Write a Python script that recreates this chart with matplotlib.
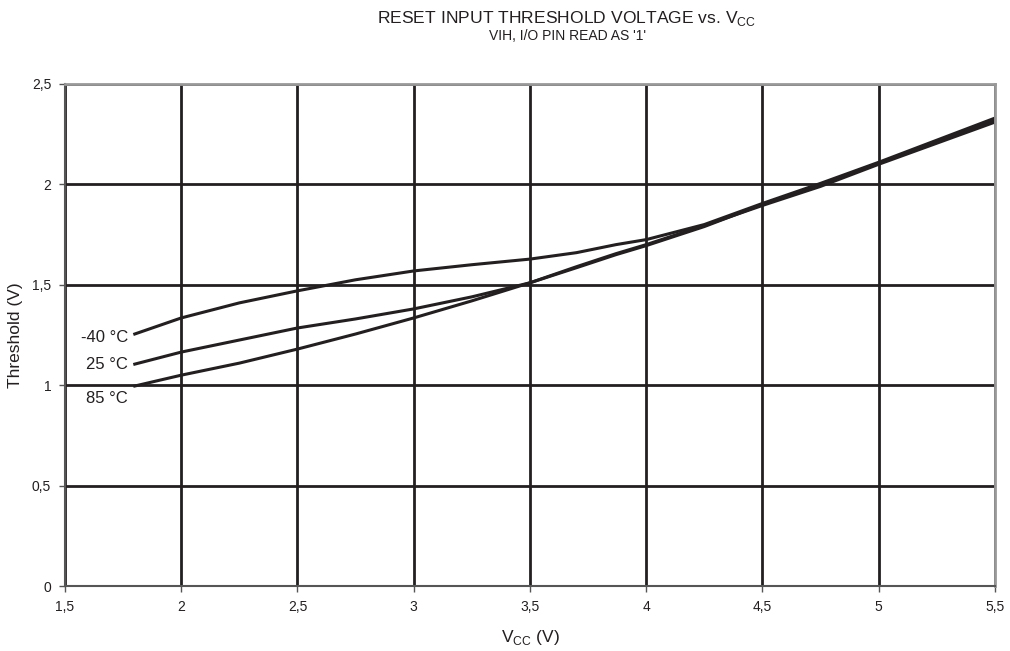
import numpy as np
import matplotlib.pyplot as plt

plt.rcParams['font.family'] = ['Liberation Sans', 'DejaVu Sans']

# supply voltage (V)
vcc = [1.8, 2.0, 2.25, 2.5, 2.75, 3.0, 3.25, 3.5, 3.7, 3.87, 4.0, 4.25, 4.5, 4.75, 5.0, 5.25, 5.5]

# threshold (V) per temperature
t_m40 = [1.255, 1.335, 1.41, 1.47, 1.525, 1.569, 1.60, 1.628, 1.66, 1.70, 1.725, 1.80, 1.905, 2.005, 2.11, 2.22, 2.33]
t_25 = [1.105, 1.165, 1.225, 1.285, 1.33, 1.38, 1.44, 1.51, 1.585, 1.65, 1.695, 1.79, 1.90, 2.00, 2.105, 2.21, 2.32]
t_85 = [0.996, 1.05, 1.11, 1.18, 1.255, 1.335, 1.42, 1.51, 1.59, 1.655, 1.70, 1.795, 1.895, 1.99, 2.10, 2.205, 2.31]

labels = ['-40 °C', '25 °C', '85 °C']

fig = plt.figure(figsize=(10.1, 6.51), dpi=100)
ax = fig.add_axes([0.0644, 0.0998, 0.9206, 0.7712])

for y in (t_m40, t_25, t_85):
    ax.plot(vcc, y, color='#231f20', lw=2.2)

# labels at the left end of each curve
label_y = [t_m40[0] - 0.015, t_25[0], t_85[0] - 0.06]
for lab, ly in zip(labels, label_y):
    ax.text(1.77, ly, lab, ha='right', va='center', fontsize=12, color='#231f20')

ax.set_xlim(1.5, 5.5)
ax.set_ylim(0, 2.5)
xt = np.arange(1.5, 5.51, 0.5)
yt = np.arange(0, 2.51, 0.5)
ax.set_xticks(xt)
ax.set_yticks(yt)
ax.set_xticklabels([f'{v:g}'.replace('.', ',') for v in xt], fontsize=10, color='#231f20')
ax.set_yticklabels([f'{v:g}'.replace('.', ',') for v in yt], fontsize=10, color='#231f20')
ax.tick_params(direction='out', length=4, width=1, color='#555555', pad=6)
ax.grid(True, color='#231f20', lw=2)
ax.set_axisbelow(True)

for s in ('top', 'right'):
    ax.spines[s].set_color('#999999')
    ax.spines[s].set_linewidth(2)
for s in ('left', 'bottom'):
    ax.spines[s].set_color('#555555')
    ax.spines[s].set_linewidth(1.5)

ax.set_xlabel('V$_\\mathregular{CC}$ (V)', fontsize=12.5, color='#231f20', labelpad=10)
ax.set_ylabel('Threshold (V)', fontsize=12.5, color='#231f20', labelpad=6)

fig.text(0.561, 0.972, 'RESET INPUT THRESHOLD VOLTAGE vs. V$_\\mathregular{CC}$',
         ha='center', va='center', fontsize=12.6, color='#231f20')
fig.text(0.562, 0.944, "VIH, I/O PIN READ AS '1'", ha='center', va='center',
         fontsize=10, color='#231f20')

fig.savefig('out.png', dpi=100)
